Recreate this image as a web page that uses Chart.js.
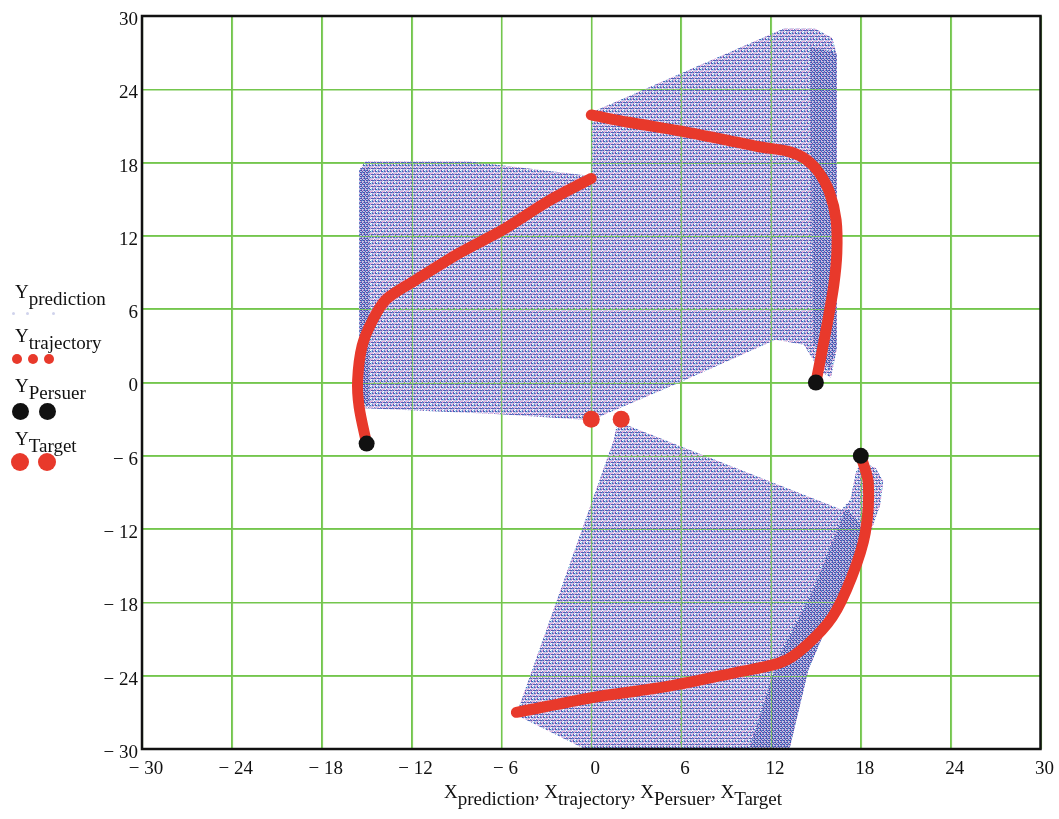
<!DOCTYPE html>
<html>
<head>
<meta charset="utf-8">
<script src="https://cdn.jsdelivr.net/npm/chart.js@4.4.1/dist/chart.umd.min.js"></script>
<style>
  html, body { margin: 0; padding: 0; background: #fff; }
  #wrap { position: relative; width: 1059px; height: 819px; }
  #plot { position: absolute; left: 0; top: 0; }
  .lg { position: absolute; font: 19px "Liberation Serif", serif; color: #111; white-space: nowrap; }
  .lg sub, .xt sub { font-size: 19px; vertical-align: -7px; }
  .dot { position: absolute; border-radius: 50%; }
  .xt { position: absolute; left: 0; width: 1226px; top: 781px; text-align: center; font: 19px "Liberation Serif", serif; color: #111; white-space: nowrap; }
</style>
</head>
<body>
<div id="wrap">
  <canvas id="plot" width="1059" height="819"></canvas>
  <div class="lg" style="left:15px; top:281px;">Y<sub>prediction</sub></div>
  <div class="lg" style="left:15px; top:325px;">Y<sub>trajectory</sub></div>
  <div class="lg" style="left:15px; top:375px;">Y<sub>Persuer</sub></div>
  <div class="lg" style="left:15px; top:428px;">Y<sub>Target</sub></div>
  <div class="xt">X<sub>prediction</sub>, X<sub>trajectory</sub>, X<sub>Persuer</sub>, X<sub>Target</sub></div>
</div>
<script>
// tick values
const ticks = [-30, -24, -18, -12, -6, 0, 6, 12, 18, 24, 30];

// prediction area (outline of the predicted paths)
const predUpperX = [-15.5, -15.1, -8.1, 0, 0, 12.9, 14.9, 16.1, 16.4, 16.4, 16.0, 15.3, 14.2, 12.3, 5.9, 0, -6.1, -15.1, -15.5];
const predUpperY = [17.4, 18.1, 18.1, 16.9, 22.1, 29.0, 29.0, 28.2, 26.8, 2.7, 0.4, 0.9, 3.1, 3.5, 0, -3.1, -2.6, -2.1, -1.4];
const predLowerX = [1.7, 2.4, 16.7, 17.3, 17.7, 18.1, 19.0, 19.5, 19.3, 18.7, 16.5, 14.5, 13.2, -0.1, -4.7, -4.9, 1.5];
const predLowerY = [-3.5, -3.5, -10.4, -9.6, -7.2, -6.5, -7.0, -8.1, -10.0, -12.1, -17.8, -23.5, -30.2, -30.2, -27.4, -26.8, -4.7];
// denser parts of the prediction area
const denseRightX = [14.6, 16.3, 16.4, 16.4, 15.9, 14.8];
const denseRightY = [27.5, 27.0, 26.8, 3.0, 1.0, 3.3];
const denseLeftX = [-15.5, -14.8, -14.8, -15.5];
const denseLeftY = [17.4, 17.7, -2.0, -1.4];
const denseLowX = [17.0, 18.3, 16.5, 14.5, 13.2, 10.5, 12.5, 14.8];
const denseLowY = [-10.3, -12.1, -17.8, -23.5, -30.2, -30.2, -22.5, -17.0];

// trajectories
const traj1X = [-15, -15.5, -15.6, -15.3, -14.6, -13.7, -11.7, -8.8, -5.9, -2.8, 0];
const traj1Y = [-5, -2, 0.2, 3, 5.1, 6.8, 8.4, 10.6, 12.5, 14.9, 16.7];
const traj2X = [15, 15.4, 15.8, 16.2, 16.4, 16.35, 15.9, 15.2, 14.3, 13.2, 11.2, 9.2, 5.9, 2.5, 0];
const traj2Y = [0, 2.5, 5.1, 8, 10.6, 13.3, 15.6, 17.2, 18.3, 18.9, 19.3, 19.8, 20.6, 21.3, 21.9];
const traj3X = [18, 18.5, 18.3, 17.4, 16.1, 14.3, 12.7, 9.4, 5, 0.5, -5];
const traj3Y = [-6, -8.2, -12.3, -15.9, -19.2, -21.6, -22.9, -23.8, -24.9, -25.7, -27];

// persuers and target
const persuerX = [-15, 15, 18];
const persuerY = [-5, 0, -6];
const targetX = [0, 2];
const targetY = [-3, -3];

function pts(xs, ys) {
    return xs.map((x, i) => ({x: x, y: ys[i]}));
}

function makePattern(rows) {
    const c = document.createElement('canvas');
    c.height = rows.length;
    c.width = rows[0].length;
    const g = c.getContext('2d');
    for (let y = 0; y < rows.length; y++)
        for (let x = 0; x < rows[y].length; x++) {
            if (!rows[y][x]) continue;
            g.fillStyle = rows[y][x];
            g.fillRect(x, y, 1, 1);
        }
    return g.createPattern(c, 'repeat');
}

const B = '#4a62b8', b = '#7482c8', P = '#e6a2d6', C = '#a8dcf0', L = '#d6cdee', D = '#3a52aa';
const mesh = makePattern([
    [B, B, b, B, P, B],
    [P, C, L, P, C, null],
    [b, L, P, B, null, C],
    [B, b, P, B, B, C],
    [C, P, null, L, C, P],
    [P, null, b, L, P, L],
]);
const meshDense = makePattern([
    [D, B, b, D, B, P],
    [P, b, C, P, B, C],
    [B, D, P, b, D, b],
    [C, P, B, C, P, B],
]);

const ctx = document.getElementById('plot').getContext('2d');
const red = '#e8392b';
const gridGreen = '#74c64e';

// frame round the plot area
const frame = {
    id: 'frame',
    afterDraw(chart) {
        const a = chart.chartArea;
        const g = chart.ctx;
        g.save();
        g.strokeStyle = '#111';
        g.lineWidth = 2.5;
        g.strokeRect(a.left, a.top, a.right - a.left, a.bottom - a.top);
        g.restore();
    }
};

// grid shows through the prediction mesh, but stays under the trajectories
const gridOverMesh = {
    id: 'gridOverMesh',
    afterDatasetDraw(chart, args) {
        if (args.index !== 2) return;
        const a = chart.chartArea;
        const g = chart.ctx;
        const sx = chart.scales.x, sy = chart.scales.y;
        g.save();
        g.strokeStyle = 'rgba(116,198,78,0.75)';
        g.lineWidth = 1.2;
        g.beginPath();
        for (const v of ticks) {
            const px = Math.round(sx.getPixelForValue(v)) + 0.5;
            const py = Math.round(sy.getPixelForValue(v)) + 0.5;
            g.moveTo(px, a.top);
            g.lineTo(px, a.bottom);
            g.moveTo(a.left, py);
            g.lineTo(a.right, py);
        }
        g.stroke();
        g.restore();
    }
};

function fmt(v) {
    return v < 0 ? '\u2212 ' + Math.abs(v) : String(v);
}

function area(label, xs, ys, pattern, order) {
    return {label: label, data: pts(xs, ys), fill: 'shape', backgroundColor: pattern,
            borderWidth: 0, pointRadius: 0, tension: 0, order: order};
}

function path(label, xs, ys) {
    return {label: label, data: pts(xs, ys), borderColor: red, borderWidth: 11,
            borderCapStyle: 'round', borderJoinStyle: 'round', pointRadius: 0, tension: 0.3, order: 3};
}

const axisFont = {family: 'Liberation Serif', size: 19};

new Chart(ctx, {
    type: 'line',
    data: {
        datasets: [
            area('pred1', predUpperX, predUpperY, mesh, 6),
            area('pred2', predLowerX, predLowerY, mesh, 6),
            area('dense1', denseRightX, denseRightY, meshDense, 5),
            area('dense2', denseLeftX, denseLeftY, meshDense, 5),
            area('dense3', denseLowX, denseLowY, meshDense, 5),
            path('traj1', traj1X, traj1Y),
            path('traj2', traj2X, traj2Y),
            path('traj3', traj3X, traj3Y),
            {label: 'Target', data: pts(targetX, targetY), showLine: false, pointRadius: 8.5,
             pointBackgroundColor: red, pointBorderWidth: 0, order: 2},
            {label: 'Persuer', data: pts(persuerX, persuerY), showLine: false, pointRadius: 8,
             pointBackgroundColor: '#111', pointBorderWidth: 0, order: 1},
        ]
    },
    options: {
        responsive: false,
        animation: false,
        events: [],
        layout: {padding: {left: 0, top: 16, right: 17, bottom: 0}},
        plugins: {
            legend: {display: false},
            tooltip: {enabled: false},
        },
        scales: {
            x: {
                type: 'linear',
                min: -30,
                max: 30,
                afterFit: function (s) { s.height = 70; },
                afterBuildTicks: function (s) { s.ticks = ticks.map(v => ({value: v})); },
                grid: {color: gridGreen, lineWidth: 1.5, drawTicks: false},
                border: {display: false},
                ticks: {color: '#111', font: axisFont, padding: 9, labelOffset: 4, maxRotation: 0,
                        autoSkip: false, callback: v => fmt(v)},
            },
            y: {
                type: 'linear',
                min: -30,
                max: 30,
                afterFit: function (s) { s.width = 142; },
                afterBuildTicks: function (s) { s.ticks = ticks.map(v => ({value: v})); },
                grid: {color: gridGreen, lineWidth: 1.5, drawTicks: false},
                border: {display: false},
                ticks: {color: '#111', font: axisFont, padding: 4, labelOffset: 4,
                        autoSkip: false, callback: v => fmt(v)},
            }
        }
    },
    plugins: [gridOverMesh, frame]
});
</script>
<script>
// legend samples
(function () {
    const wrap = document.getElementById('wrap');
    const samples = [
        [13, 313, 1.5, 'rgba(120,130,200,0.35)'], [27, 313, 1.5, 'rgba(120,130,200,0.35)'], [53, 313, 1.5, 'rgba(120,130,200,0.35)'],
        [17, 359, 5, '#e8392b'], [33, 359, 5, '#e8392b'], [49, 359, 5, '#e8392b'],
        [20, 411, 8.5, '#111'], [47, 411, 8.5, '#111'],
        [20, 462, 9, '#e8392b'], [47, 462, 9, '#e8392b'],
    ];
    for (const s of samples) {
        const d = document.createElement('div');
        d.className = 'dot';
        d.style.left = (s[0] - s[2]) + 'px';
        d.style.top = (s[1] - s[2]) + 'px';
        d.style.width = d.style.height = (2 * s[2]) + 'px';
        d.style.background = s[3];
        wrap.appendChild(d);
    }
})();
</script>
</body>
</html>
